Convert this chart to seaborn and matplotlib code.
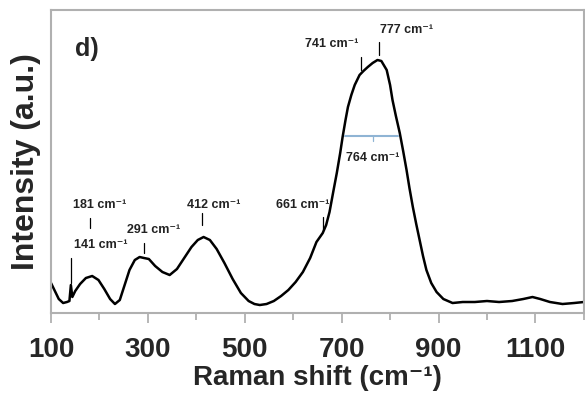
import numpy as np
import pandas as pd
import matplotlib
matplotlib.use("Agg")
import matplotlib.pyplot as plt
import seaborn as sns

# traced spectrum (Raman shift in cm-1, intensity in arbitrary units)
shift = [100, 108, 116, 125, 133, 138, 141, 144, 150, 160, 172, 185, 198, 210, 222, 232,
         242, 252, 262, 273, 283, 292, 302, 315, 330, 345, 360, 375, 390, 403, 415, 428,
         442, 458, 475, 492, 508, 520, 531, 545, 560, 575, 590, 605, 620, 635, 648, 661,
         668, 675, 683, 690, 697, 702, 708, 713, 720, 727, 737, 745, 754, 764, 774, 782,
         793, 800, 805, 812, 820, 827, 834, 840, 847, 854, 861, 868, 875, 885, 896, 910,
         929, 950, 975, 1000, 1025, 1052, 1075, 1094, 1110, 1130, 1156, 1180, 1200]
intensity = [30, 22, 14, 10, 11, 12, 28, 16, 22, 29, 35, 37, 33, 24, 14, 9,
             13, 28, 43, 53, 56, 55, 54, 47, 41, 38, 44, 55, 66, 73, 76, 73,
             64, 50, 34, 20, 12, 9, 8, 9, 12, 17, 23, 31, 41, 55, 71, 80,
             88, 101, 122, 140, 160, 176, 193, 206, 218, 228, 238, 242, 246, 250, 253, 252,
             243, 228, 213, 197, 180, 162, 143, 125, 106, 89, 73, 57, 43, 30, 21, 14,
             10, 11, 11, 12, 11, 12, 14, 16, 14, 11, 9, 10, 11]

# peak markers: position, marker bottom/top, label centre x / y
peaks = [141, 181, 291, 412, 661, 741, 777]
mark_lo = [30, 85, 60, 88, 83, 243, 258]
mark_hi = [55, 95, 70, 100, 96, 256, 271]
label_x = [203, 201, 312, 436, 620, 679, 834]
label_y = [68, 108, 83, 108, 108, 269, 283]

# FWHM line
fwhm_x = [706, 817]
fwhm_y = 177
fwhm_center = 764

df = pd.DataFrame({"shift": shift, "intensity": intensity})

sns.set_style("white")
plt.rcParams['font.family'] = ['Liberation Sans', 'DejaVu Sans']

fig = plt.figure(figsize=(5.85, 4.03), dpi=100)
ax = fig.add_axes([0.0872, 0.2233, 0.9108, 0.7519])

sns.lineplot(data=df, x="shift", y="intensity", ax=ax, color="black", linewidth=1.8)

for p, lo, hi, lx, ly in zip(peaks, mark_lo, mark_hi, label_x, label_y):
    ax.plot([p, p], [lo, hi], color="black", linewidth=0.9)
    ax.text(lx, ly, f"{p} cm\u207b\u00b9", ha="center", va="center",
            fontsize=9, fontweight="bold", color="#222222")

ax.plot(fwhm_x, [fwhm_y, fwhm_y], color="#8fb4d4", linewidth=1.5)
ax.plot([fwhm_center, fwhm_center], [fwhm_y, fwhm_y - 5], color="#8fb4d4", linewidth=0.9)
ax.text(fwhm_center, 155, f"{fwhm_center} cm\u207b\u00b9", ha="center", va="center",
        fontsize=9, fontweight="bold", color="#222222")

ax.text(0.045, 0.871, "d)", transform=ax.transAxes, fontsize=18, fontweight="bold",
        ha="left", va="center")

ax.set_xlim(100, 1200)
ax.set_ylim(0, 303)
ax.set_xticks([100, 300, 500, 700, 900, 1100])
ax.set_xticks([200, 400, 600, 800, 1000, 1200], minor=True)
ax.set_yticks([])
ax.tick_params(axis="x", which="major", direction="out", length=7, width=1.2,
               color="#aaaaaa", labelsize=20, pad=10, bottom=True)
ax.tick_params(axis="x", which="minor", direction="out", length=5, width=1.2,
               color="#aaaaaa", bottom=True)
for lbl in ax.get_xticklabels():
    lbl.set_fontweight("bold")

for s in ax.spines.values():
    s.set_color("#b0b0b0")
    s.set_linewidth(1.5)

ax.set_xlabel("Raman shift (cm\u207b\u00b9)", fontsize=20, fontweight="bold", labelpad=2)
ax.set_ylabel("Intensity (a.u.)", fontsize=23, fontweight="bold", labelpad=7)

fig.savefig("out.png", dpi=100)
